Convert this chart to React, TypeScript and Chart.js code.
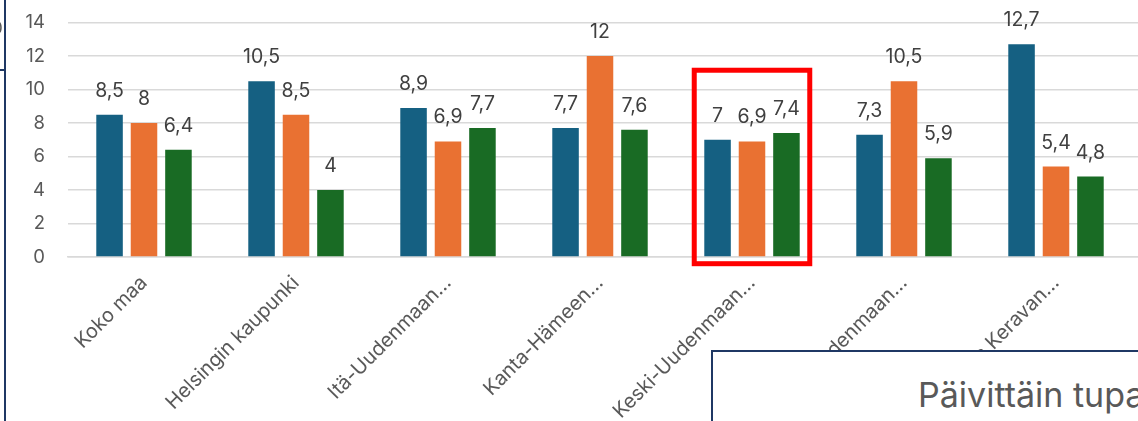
import React, { useEffect, useRef } from "react";
import { Chart, registerables } from "chart.js";

Chart.register(...registerables);

// ---- Data ----
const categories: string[] = [
  "Koko maa",
  "Helsingin kaupunki",
  "Itä-Uudenmaan…",
  "Kanta-Hämeen…",
  "Keski-Uudenmaan…",
  "Länsi-Uudenmaan…",
  "Vantaan ja Keravan…",
  "",
];
const series1: (number | null)[] = [8.5, 10.5, 8.9, 7.7, 7, 7.3, 12.7, null];
const series2: (number | null)[] = [8, 8.5, 6.9, 12, 6.9, 10.5, 5.4, null];
const series3: (number | null)[] = [6.4, 4, 7.7, 7.6, 7.4, 5.9, 4.8, null];
const seriesNames: string[] = ["Sarja 1", "Sarja 2", "Sarja 3"];
const seriesColors: string[] = ["#156082", "#E97132", "#196B24"];

const yMin = 0;
const yMax = 14;
const yStep = 2;

// highlighted group (red frame)
const highlightIndex = 4;
const highlightTop = 11.15;
const highlightBottom = -0.4;

const FONT = "Inter";

const valueLabels = {
  id: "valueLabels",
  afterDatasetsDraw(chart: any) {
    const ctx = chart.ctx;
    ctx.save();
    ctx.font = `19.5px ${FONT}`;
    ctx.fillStyle = "#404040";
    ctx.textAlign = "center";
    ctx.textBaseline = "alphabetic";
    chart.data.datasets.forEach((ds: any, i: number) => {
      const meta = chart.getDatasetMeta(i);
      meta.data.forEach((el: any, j: number) => {
        const v = ds.data[j];
        if (v == null) return;
        ctx.fillText(String(v).replace(".", ","), el.x, el.y - 18);
      });
    });
    ctx.restore();
  },
};

const highlightFrame = {
  id: "highlightFrame",
  afterDraw(chart: any) {
    const xs = chart.scales.x;
    const ys = chart.scales.y;
    const cx = xs.getPixelForValue(highlightIndex);
    const catW = xs.width / categories.length;
    const half = catW * 0.38;
    const top = ys.getPixelForValue(highlightTop);
    const bottom = ys.getPixelForValue(highlightBottom);
    const ctx = chart.ctx;
    ctx.save();
    ctx.strokeStyle = "#FF0000";
    ctx.lineWidth = 5;
    ctx.strokeRect(cx - half, top, half * 2, bottom - top);
    ctx.restore();
  },
};

export default function App() {
  const canvasRef = useRef<HTMLCanvasElement | null>(null);

  useEffect(() => {
    document.body.style.margin = "0";
    const canvas = canvasRef.current;
    if (!canvas) return;
    Chart.defaults.font.family = FONT;
    Chart.defaults.font.size = 19;
    Chart.defaults.color = "#595959";
    const chart = new Chart(canvas, {
      type: "bar",
      data: {
        labels: categories,
        datasets: [series1, series2, series3].map((d, i) => ({
          label: seriesNames[i],
          data: d,
          backgroundColor: seriesColors[i],
          borderWidth: 0,
          categoryPercentage: 0.68,
          barPercentage: 0.77,
        })),
      },
      options: {
        responsive: false,
        animation: false,
        devicePixelRatio: 1,
        layout: { padding: { top: 22.5, right: 6, left: 0, bottom: 0 } },
        plugins: {
          legend: { display: false },
          tooltip: { enabled: false },
          title: { display: false },
        },
        scales: {
          x: {
            grid: { display: false, drawTicks: false },
            border: { display: true, color: "#D9D9D9", width: 1.5 },
            ticks: {
              autoSkip: false,
              minRotation: 45,
              maxRotation: 45,
              padding: 14,
              color: "#595959",
              font: { family: FONT, size: 20 },
            },
            afterFit: (s: any) => {
              s.height = 164;
            },
          },
          y: {
            min: yMin,
            max: yMax,
            grid: {
              color: "#D9D9D9",
              lineWidth: 1.5,
              drawTicks: true,
              tickLength: 20,
              tickColor: "rgba(0,0,0,0)",
            },
            border: { display: false },
            ticks: {
              stepSize: yStep,
              padding: 3,
              color: "#595959",
              font: { family: FONT, size: 18.5 },
            },
            afterFit: (s: any) => {
              s.width = 68;
            },
          },
        },
      },
      plugins: [valueLabels, highlightFrame],
    });
    return () => chart.destroy();
  }, []);

  return (
    <div
      style={{
        position: "relative",
        width: 1138,
        height: 421,
        overflow: "hidden",
        background: "#ffffff",
        fontFamily: FONT,
      }}
    >
      <canvas
        ref={canvasRef}
        width={1290}
        height={421}
        style={{ position: "absolute", left: 0, top: 0, width: 1290, height: 421 }}
      />
      {/* neighbouring frame remnants on the left */}
      <div style={{ position: "absolute", left: 4, top: 0, width: 2, height: 421, background: "#1F3864" }} />
      <div style={{ position: "absolute", left: 0, top: 69, width: 5, height: 2, background: "#1F3864" }} />
      <span
        style={{
          position: "absolute",
          left: -8,
          top: 20,
          fontSize: 17,
          lineHeight: "17px",
          color: "#595959",
        }}
      >
        0
      </span>
      {/* overlapping box in the lower right */}
      <div
        style={{
          position: "absolute",
          left: 711,
          top: 350,
          width: 600,
          height: 200,
          border: "2px solid #1F3864",
          background: "#ffffff",
        }}
      >
        <div
          style={{
            position: "absolute",
            left: 205,
            top: 25.6,
            fontSize: 34,
            lineHeight: "34px",
            color: "#595959",
            whiteSpace: "nowrap",
          }}
        >
          Päivittäin tupakoivat
        </div>
      </div>
    </div>
  );
}
